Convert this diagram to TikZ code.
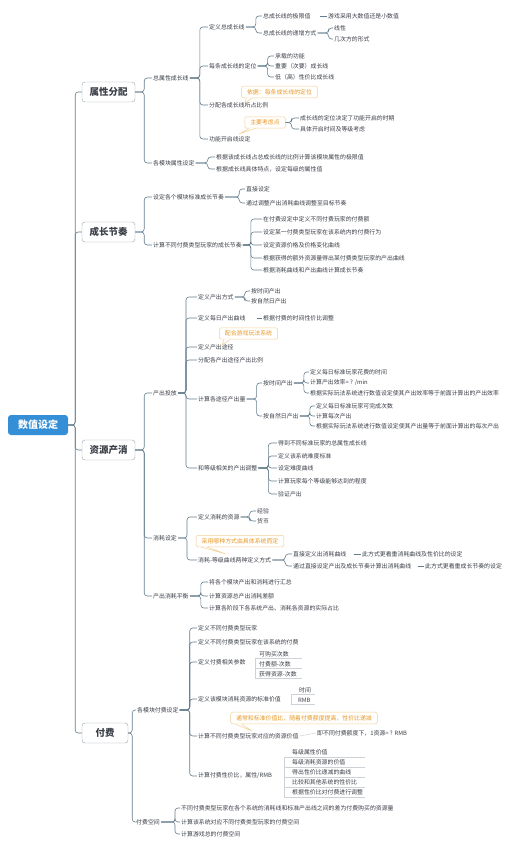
\documentclass[tikz,border=0pt]{standalone}
\usepackage{fontspec}
\setmainfont{Noto Sans CJK SC}
\usepackage{xcolor}
\usepackage{tikz}
\usetikzlibrary{calc}
\definecolor{rootblue}{RGB}{52,143,214}
\definecolor{linkgray}{RGB}{100,125,140}
\definecolor{textgray}{RGB}{58,62,70}
\definecolor{noteorange}{RGB}{232,152,36}
\definecolor{noteedge}{RGB}{242,208,150}
\definecolor{rulegray}{RGB}{205,210,214}
% parent -> children, trunk at #2 right of parent
\newcommand{\branch}[3]{%
  \foreach \c in {#3} \draw[link] (#1.east) -- ++(#2,0) |- (\c.west);}
% parent -> one child on the same line, starting #2 right of parent
\newcommand{\single}[3]{%
  \draw[link] ([xshift=#2pt]#1.east) -- (#3.west);}
% little tail under a note
\newcommand{\notetail}[2]{%
  \fill[white] ([xshift=5pt,yshift=0.6pt]#1.south west) -- #2 -- ([xshift=11pt,yshift=0.6pt]#1.south west) -- cycle;
  \draw[noteedge, line width=0.5pt] ([xshift=5pt]#1.south west) -- #2 -- ([xshift=11pt]#1.south west);}

\begin{document}
\begin{tikzpicture}[x=1pt, y=-1pt,
  root/.style={fill=rootblue, rounded corners=3pt, text=white,
               font=\fontsize{10}{12}\selectfont\bfseries, minimum width=60pt, minimum height=20pt},
  topic/.style={draw=linkgray!70, fill=white, rounded corners=3pt, text=textgray,
                font=\fontsize{9.5}{11}\selectfont\bfseries, minimum width=53pt, minimum height=20pt},
  leaf/.style={anchor=west, inner sep=1pt, text=textgray, font=\fontsize{5.9}{7}\selectfont},
  note/.style={draw=noteedge, line width=0.5pt, fill=white, rounded corners=2pt, text=noteorange,
               font=\fontsize{5.9}{7}\selectfont, inner xsep=5.5pt, inner ysep=3pt},
  link/.style={linkgray, line width=0.6pt, rounded corners=3pt},
  rule/.style={rulegray, line width=0.5pt}
]
  \useasboundingbox (0,0) rectangle (514,850);

  % Root and main topics
  \node[root] (root) at (38,425) {数值设定};
  \node[topic] (attr) at (108.5,92) {属性分配};
  \node[topic] (grow) at (108.5,232) {成长节奏};
  \node[topic] (res) at (108.5,450) {资源产消};
  \node[topic, minimum width=46pt] (pay) at (105,733) {付费};

  % 属性分配
  \node[leaf] (attrA) at (152,78) {总属性成长线};
  \node[leaf] (attrA1) at (208,27) {定义总成长线};
  \node[leaf] (attrA11) at (262,16) {总成长线的极限值};
  \node[leaf] (attrA111) at (327,16) {游戏采用大数值还是小数值};
  \node[leaf] (attrA12) at (262,33) {总成长线的递增方式};
  \node[leaf] (attrA121) at (333,28) {线性};
  \node[leaf] (attrA122) at (333,39) {几次方的形式};
  \node[leaf] (attrA2) at (208,66) {每条成长线的定位};
  \node[leaf] (attrA21) at (274,56) {承载的功能};
  \node[leaf] (attrA22) at (274,66) {重要（次要）成长线};
  \node[leaf] (attrA23) at (274,77) {低（高）性价比成长线};
  \node[note] (attrN1) at (279.5,92) {依据：每条成长线的定位};
  \node[leaf] (attrA3) at (208,105) {分配各成长线所占比例};
  \node[note] (attrN2) at (265,122.5) {主要考虑点};
  \node[leaf] (attrN21) at (299,118) {成长线的定位决定了功能开启的时期};
  \node[leaf] (attrN22) at (299,129) {具体开启时间及等级考虑};
  \node[leaf] (attrA4) at (208,139) {功能开启线设定};
  \node[leaf] (attrB) at (152,163) {各模块属性设定};
  \node[leaf] (attrB1) at (215,157) {根据该成长线占总成长线的比例计算该模块属性的极限值};
  \node[leaf] (attrB2) at (215,169) {根据成长线具体特点，设定每级的属性值};

  % 成长节奏
  \node[leaf] (growA) at (152,197) {设定各个模块标准成长节奏};
  \node[leaf] (growA1) at (245,189) {直接设定};
  \node[leaf] (growA2) at (245,203) {通过调整产出消耗曲线调整至目标节奏};
  \node[leaf] (growB) at (152,245) {计算不同付费类型玩家的成长节奏};
  \node[leaf] (growB1) at (262,219) {在付费设定中定义不同付费玩家的付费额};
  \node[leaf] (growB2) at (262,232) {设定某一付费类型玩家在该系统内的付费行为};
  \node[leaf] (growB3) at (262,245) {设定资源价格及价格变化曲线};
  \node[leaf] (growB4) at (262,258) {根据获得的额外资源量得出某付费类型玩家的产出曲线};
  \node[leaf] (growB5) at (262,270) {根据消耗曲线和产出曲线计算成长节奏};

  % 资源产消
  \node[leaf] (resA) at (152,393) {产出投放};
  \node[leaf] (resA1) at (197,297) {定义产出方式};
  \node[leaf] (resA11) at (250,291) {按时间产出};
  \node[leaf] (resA12) at (250,301) {按自然日产出};
  \node[leaf] (resA2) at (197,318) {定义每日产出曲线};
  \node[leaf] (resA21) at (262,318) {根据付费的时间性价比调整};
  \node[note] (resN1) at (248.5,333.5) {配合游戏玩法系统};
  \node[leaf] (resA3) at (197,347) {定义产出途径};
  \node[leaf] (resA4) at (197,360) {分配各产出途径产出比例};
  \node[leaf] (resA5) at (197,399) {计算各途径产出量};
  \node[leaf] (resA51) at (262,383) {按时间产出};
  \node[leaf] (resA511) at (309,372) {定义每日标准玩家花费的时间};
  \node[leaf] (resA512) at (309,383) {计算产出效率= ? /min};
  \node[leaf] (resA513) at (309,393) {根据实际玩法系统进行数值设定使其产出效率等于前面计算出的产出效率};
  \node[leaf] (resA52) at (262,416) {按自然日产出};
  \node[leaf] (resA521) at (315,406) {定义每日标准玩家可完成次数};
  \node[leaf] (resA522) at (315,416) {计算每次产出};
  \node[leaf] (resA523) at (315,426) {根据实际玩法系统进行数值设定使其产出量等于前面计算出的每次产出};
  \node[leaf] (resA6) at (197,468) {和等级相关的产出调整};
  \node[leaf] (resA61) at (277,443) {得到不同标准玩家的总属性成长线};
  \node[leaf] (resA62) at (277,456) {定义该系统难度标准};
  \node[leaf] (resA63) at (277,468) {设定难度曲线};
  \node[leaf] (resA64) at (277,481) {计算玩家每个等级能够达到的程度};
  \node[leaf] (resA65) at (277,494) {验证产出};
  \node[leaf] (resB) at (152,538) {消耗设定};
  \node[leaf] (resB1) at (197,517) {定义消耗的资源};
  \node[leaf] (resB11) at (256,511) {经验};
  \node[leaf] (resB12) at (256,521) {货币};
  \node[note] (resN2) at (240,541) {采用哪种方式由具体系统而定};
  \node[leaf] (resB2) at (197,560) {消耗-等级曲线两种定义方式};
  \node[leaf] (resB21) at (292,554) {直接定义出消耗曲线};
  \node[leaf] (resB211) at (361,554) {此方式更看重消耗曲线及性价比的设定};
  \node[leaf] (resB22) at (292,566) {通过直接设定产出及成长节奏计算出消耗曲线};
  \node[leaf] (resB221) at (424,566) {此方式更看重成长节奏的设定};
  \node[leaf] (resC) at (152,596) {产出消耗平衡};
  \node[leaf] (resC1) at (208,582) {将各个模块产出和消耗进行汇总};
  \node[leaf] (resC2) at (208,596) {计算资源总产出消耗差额};
  \node[leaf] (resC3) at (208,608) {计算各阶段下各系统产出、消耗各资源的实际占比};

  % 付费
  \node[leaf] (payA) at (136,710) {各模块付费设定};
  \node[leaf] (payA1) at (197,628) {定义不同付费类型玩家};
  \node[leaf] (payA2) at (197,642) {定义不同付费类型玩家在该系统的付费};
  \node[leaf] (payA3) at (197,662) {定义付费相关参数};
  \node[leaf] (payA31) at (258,654) {可购买次数};
  \node[leaf] (payA32) at (258,664) {付费额-次数};
  \node[leaf] (payA33) at (258,674) {获得资源-次数};
  \node[leaf] (payA4) at (197,699) {定义该模块消耗资源的标准价值};
  \node[leaf] (payA41) at (298,690) {时间};
  \node[leaf] (payA42) at (297,700) {RMB};
  \node[note] (payN1) at (304,718) {通常和标准价值比，随着付费额度提高，性价比递减};
  \node[leaf] (payA5) at (197,736) {计算不同付费类型玩家对应的资源价值};
  \node[leaf] (payA51) at (316,733) {即不同付费额度下，1资源= ? RMB};
  \node[leaf] (payA6) at (197,776) {计算付费性价比，属性/RMB};
  \node[leaf] (payA61) at (291,752) {每级属性价值};
  \node[leaf] (payA62) at (291,762) {每级消耗资源的价值};
  \node[leaf] (payA63) at (291,772) {得出性价比递减的曲线};
  \node[leaf] (payA64) at (291,782) {比较和其他系统的性价比};
  \node[leaf] (payA65) at (291,792) {根据性价比对付费进行调整};
  \node[leaf] (payB) at (135,822) {付费空间};
  \node[leaf] (payB1) at (180,808) {不同付费类型玩家在各个系统的消耗线和标准产出线之间的差为付费购买的资源量};
  \node[leaf] (payB2) at (180,822) {计算该系统对应不同付费类型玩家的付费空间};
  \node[leaf] (payB3) at (180,834) {计算游戏总的付费空间};

  % Connectors
  \branch{root}{7}{attr,grow,res,pay}
  \branch{attr}{9}{attrA,attrB}
  \branch{attrA}{10}{attrA1,attrA2,attrA3,attrA4}
  \branch{attrA1}{10}{attrA11,attrA12}
  \single{attrA11}{8}{attrA111}
  \branch{attrA12}{11}{attrA121,attrA122}
  \branch{attrA2}{10}{attrA21,attrA22,attrA23}
  \branch{attrN2}{6}{attrN21,attrN22}
  \branch{attrB}{12}{attrB1,attrB2}
  \branch{grow}{9}{growA,growB}
  \branch{growA}{14}{growA1,growA2}
  \branch{growB}{8}{growB1,growB2,growB3,growB4,growB5}
  \branch{res}{9}{resA,resB,resC}
  \branch{resA}{8}{resA1,resA2,resA3,resA4,resA5,resA6}
  \branch{resA1}{10}{resA11,resA12}
  \single{resA2}{10}{resA21}
  \branch{resA5}{10}{resA51,resA52}
  \branch{resA51}{10}{resA511,resA512,resA513}
  \branch{resA52}{10}{resA521,resA522,resA523}
  \branch{resA6}{10}{resA61,resA62,resA63,resA64,resA65}
  \branch{resB}{9}{resB1,resB2}
  \branch{resB1}{9}{resB11,resB12}
  \branch{resB2}{13}{resB21,resB22}
  \single{resB21}{6}{resB211}
  \single{resB22}{6}{resB221}
  \branch{resC}{11}{resC1,resC2,resC3}
  \branch{pay}{4}{payA,payB}
  \branch{payA}{10}{payA1,payA2,payA3,payA4,payA5,payA6}
  \branch{payB}{14}{payB1,payB2,payB3}
  \draw[rule] (payA5.east) -- (payA51.west);

  % Note tails
  \notetail{attrN1}{(245,103)}
  \notetail{attrN2}{(239,134)}
  \notetail{resN1}{(222,345)}
  \notetail{resN2}{(226,554)}
  \notetail{payN1}{(252,731)}

  % Light rules of the small lists
  \draw[rule] (255,658.5) -- (255,678.5);
  \foreach \yy in {658.5,668.5,678.5} \draw[rule] (255,\yy) -- (302,\yy);
  \draw[rule] (291,694.5) -- (291,704.5);
  \foreach \yy in {694.5,704.5} \draw[rule] (291,\yy) -- (315,\yy);
  \draw[rule] (284,757) -- (284,797);
  \foreach \yy in {757,767,777,787,797} \draw[rule] (284,\yy) -- (365,\yy);
\end{tikzpicture}
\end{document}
